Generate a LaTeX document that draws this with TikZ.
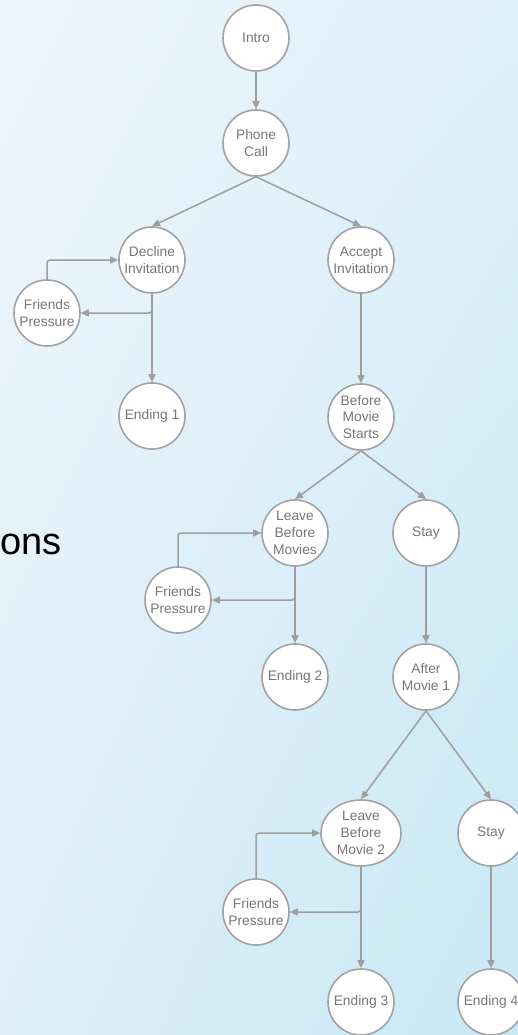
\documentclass[tikz,border=0pt]{standalone}
\usepackage{fontspec}
\setmainfont{Liberation Sans}
\usetikzlibrary{arrows.meta,shapes.geometric,shadings}
\definecolor{bgTL}{HTML}{EEF5FC}
\definecolor{bgTR}{HTML}{DDF1FA}
\definecolor{bgBL}{HTML}{DDF0F9}
\definecolor{bgBR}{HTML}{C8E8F5}
\definecolor{edgegray}{HTML}{9E9E9E}
\definecolor{bordergray}{HTML}{A2A2A2}
\definecolor{textgray}{HTML}{767676}
\tikzset{
  state/.style={circle, draw=bordergray, line width=1.6pt, fill=white,
    minimum size=66pt, inner sep=0pt, align=center, text=textgray,
    font=\fontsize{13.8}{16.8}\selectfont},
  ellstate/.style={state, ellipse, minimum width=80pt, minimum height=66pt},
  conn/.style={draw=edgegray, line width=1.5pt, -{Triangle[length=8pt,width=7pt]}},
  side/.style={conn, rounded corners=3pt},
}
\begin{document}
\begin{tikzpicture}[x=1pt,y=-1pt]
\shade[upper left=bgTL, upper right=bgTR, lower left=bgBL, lower right=bgBR]
  (0,0) rectangle (518,1035);
\useasboundingbox (0,0) rectangle (518,1035);

\node[anchor=base west, inner sep=0pt, font=\fontsize{38}{42}\selectfont, text=black] (title) at (0,554) {ons};

\node[state] (intro) at (256,38) {Intro};
\node[state] (phone) at (256,143) {Phone\\Call};
\node[state] (decline) at (152,260) {Decline\\Invitation};
\node[state] (accept) at (361,260) {Accept\\Invitation};
\node[state] (fp1) at (47,313) {Friends\\Pressure};
\node[state] (end1) at (152,416) {Ending 1};
\node[state] (bms) at (361,417) {Before\\Movie\\Starts};
\node[state] (lbm) at (295,533) {Leave\\Before\\Movies};
\node[state] (stay1) at (426,533) {Stay};
\node[state] (fp2) at (178,600) {Friends\\Pressure};
\node[state] (end2) at (295,677) {Ending 2};
\node[state] (am1) at (426,677) {After\\Movie 1};
\node[ellstate] (lbm2) at (361,833) {Leave\\Before\\Movie 2};
\node[state] (stay2) at (491,833) {Stay};
\node[state] (fp3) at (256,912) {Friends\\Pressure};
\node[state] (end3) at (361,1002) {Ending 3};
\node[state] (end4) at (491,1002) {Ending 4};

\draw[conn] (intro.south) -- (phone.north);
\draw[conn] (phone.south) -- (decline.north);
\draw[conn] (phone.south) -- (accept.north);
\draw[conn] (decline.south) -- (end1.north);
\draw[side] (decline.south) |- (fp1.east);
\draw[side] (fp1.north) |- (decline.west);
\draw[conn] (accept.south) -- (bms.north);
\draw[conn] (bms.south) -- (lbm.north);
\draw[conn] (bms.south) -- (stay1.north);
\draw[conn] (lbm.south) -- (end2.north);
\draw[side] (lbm.south) |- (fp2.east);
\draw[side] (fp2.north) |- (lbm.west);
\draw[conn] (stay1.south) -- (am1.north);
\draw[conn] (am1.south) -- (lbm2.north);
\draw[conn] (am1.south) -- (stay2.north);
\draw[conn] (lbm2.south) -- (end3.north);
\draw[side] (lbm2.south) |- (fp3.east);
\draw[side] (fp3.north) |- (lbm2.west);
\draw[conn] (stay2.south) -- (end4.north);
\end{tikzpicture}
\end{document}
